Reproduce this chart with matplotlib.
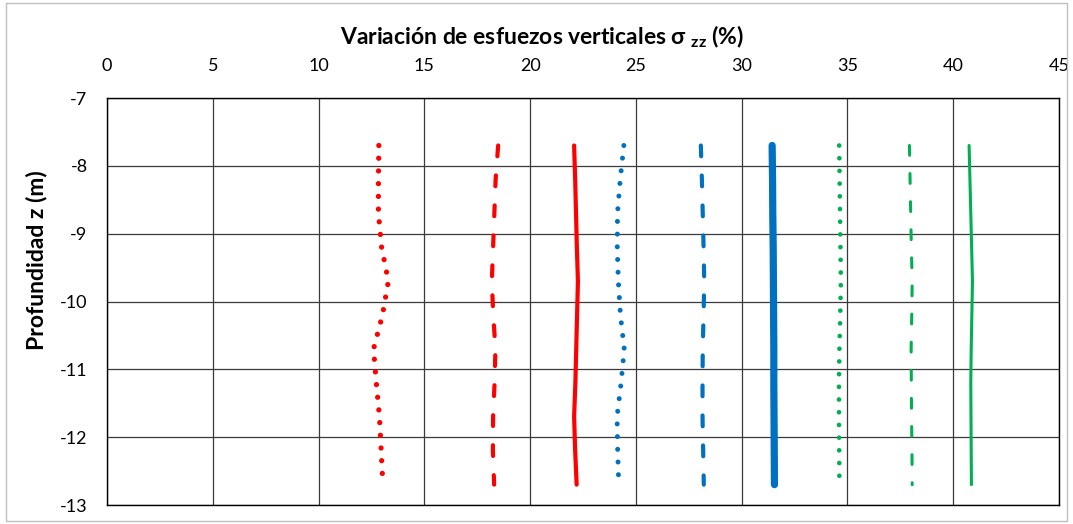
import matplotlib
matplotlib.use("Agg")
import matplotlib.pyplot as plt
from matplotlib.patches import Rectangle

plt.rcParams['font.family'] = ['Lato', 'DejaVu Sans']
plt.rcParams['mathtext.fontset'] = 'custom'
plt.rcParams['mathtext.rm'] = 'Lato:bold'
plt.rcParams['mathtext.bf'] = 'Lato:bold'
plt.rcParams['axes.unicode_minus'] = False

depths = [-7.7, -8.2, -8.7, -9.2, -9.7, -10.2, -10.7, -11.2, -11.7, -12.2, -12.7]

red_dotted = [12.85, 12.83, 12.83, 12.98, 13.30, 13.02, 12.60, 12.73, 12.88, 12.96, 13.04]
red_dashed = [18.49, 18.37, 18.31, 18.25, 18.19, 18.26, 18.36, 18.32, 18.25, 18.24, 18.30]
red_solid = [22.08, 22.13, 22.17, 22.21, 22.26, 22.22, 22.18, 22.14, 22.08, 22.13, 22.20]
blue_dotted = [24.43, 24.26, 24.13, 24.12, 24.17, 24.27, 24.45, 24.30, 24.11, 24.14, 24.19]
blue_dashed = [28.07, 28.12, 28.16, 28.20, 28.23, 28.20, 28.16, 28.15, 28.15, 28.18, 28.21]
blue_solid = [31.44, 31.46, 31.47, 31.49, 31.50, 31.51, 31.52, 31.52, 31.53, 31.54, 31.55]
green_dotted = [34.61, 34.63, 34.65, 34.67, 34.69, 34.66, 34.62, 34.60, 34.60, 34.61, 34.62]
green_dashed = [37.93, 37.96, 37.99, 38.02, 38.06, 38.04, 38.01, 38.02, 38.03, 38.05, 38.06]
green_solid = [40.75, 40.79, 40.83, 40.87, 40.91, 40.88, 40.85, 40.83, 40.84, 40.85, 40.86]

x_ticks = [0, 5, 10, 15, 20, 25, 30, 35, 40, 45]
y_ticks = [-7, -8, -9, -10, -11, -12, -13]

RED = '#FF0000'
BLUE = '#0070C0'
GREEN = '#00B050'

W, H = 1073, 524
fig = plt.figure(figsize=(W / 100, H / 100), dpi=100)
ax = fig.add_axes([107 / W, 1 - 505 / H, (1059 - 107) / W, (505 - 98) / H])

series = [
    (red_dotted, RED, 3.8, (0, (0.01, 2.4))),
    (red_dashed, RED, 3.0, (0, (2.6, 4.6))),
    (red_solid, RED, 3.0, '-'),
    (blue_dotted, BLUE, 3.6, (0, (0.01, 2.53))),
    (blue_dashed, BLUE, 3.0, (0, (2.6, 4.6))),
    (blue_solid, BLUE, 5.2, '-'),
    (green_dotted, GREEN, 3.4, (0, (0.01, 2.68))),
    (green_dashed, GREEN, 2.2, (0, (3.2, 6.0))),
    (green_solid, GREEN, 2.2, '-'),
]
for vals, col, lw, ls in series:
    line, = ax.plot(vals, depths, color=col, lw=lw, linestyle=ls,
                    solid_capstyle='round', dash_capstyle='round', zorder=3)

ax.set_xlim(0, 45)
ax.set_ylim(-13, -7)
ax.set_xticks(x_ticks)
ax.set_yticks(y_ticks)
ax.xaxis.tick_top()
ax.tick_params(axis='both', length=0, labelsize=13, colors='#000000')
ax.tick_params(axis='x', pad=17)
ax.tick_params(axis='y', pad=14)
ax.grid(True, color='#3a3a3a', lw=0.9)
ax.set_axisbelow(True)
for sp in ax.spines.values():
    sp.set_color('#000000')
    sp.set_linewidth(1.0)

fig.text(542 / W, 1 - 37 / H, r'Variación de esfuezos verticales σ $\mathregular{_{zz}}$ (%)',
         ha='center', va='center', fontsize=16.5, fontweight='bold')
fig.text(37 / W, 1 - 260 / H, 'Profundidad z (m)', rotation=90, ha='center', va='center',
         fontsize=16.5, fontweight='bold')

fig.patches.append(Rectangle((6 / W, 3 / H), (W - 12) / W, (H - 6) / H,
                             transform=fig.transFigure, fill=False,
                             edgecolor='#bfbfbf', lw=1.0))

fig.savefig('out.png', dpi=100)
